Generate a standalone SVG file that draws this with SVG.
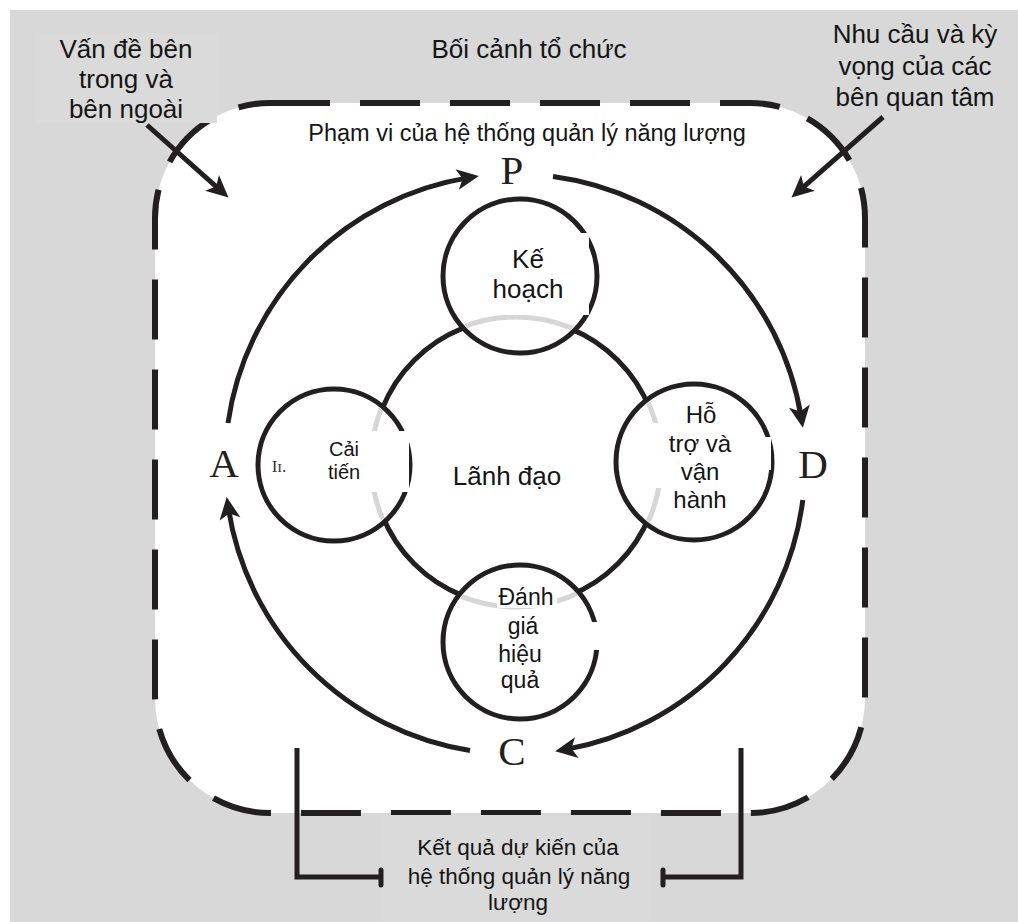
<svg xmlns="http://www.w3.org/2000/svg" width="1018" height="922" viewBox="0 0 1018 922">
  <defs>
    <style>
      .txt { font-family: "Liberation Sans", Arial, sans-serif; fill: #151515; text-anchor: middle; }
      .big { font-size: 26px; }
      .mid { font-size: 24px; }
      .sm { font-size: 20px; }
      .letter { font-family: "Liberation Serif", "Times New Roman", serif; font-size: 41px; fill: #231f20; text-anchor: middle; }
      .ring { fill: #ffffff; stroke: #231f20; stroke-width: 5; }
      .flow { fill: none; stroke: #231f20; stroke-width: 5; marker-end: url(#head); }
      .bracket { fill: none; stroke: #231f20; stroke-width: 5; }
      .cover { fill: #ffffff; }
    </style>
    <marker id="head" markerUnits="userSpaceOnUse" markerWidth="32" markerHeight="32" viewBox="-16 -14 32 28" refX="0" refY="0" orient="auto">
      <path d="M10,0 L-12,-10.5 L-6.5,0 L-12,10.5 Z" fill="#231f20"/>
    </marker>
    <clipPath id="insideSmall">
      <circle cx="520" cy="276" r="74"/>
      <circle cx="694" cy="462" r="75"/>
      <circle cx="334" cy="465" r="73"/>
      <circle cx="520" cy="642" r="74"/>
    </clipPath>
  </defs>

  <!-- page background -->
  <rect x="0" y="0" width="1018" height="922" fill="#ffffff"/>
  <rect x="10" y="10" width="1008" height="912" fill="#d8d8d8"/>

  <!-- scope boundary -->
  <g id="scope">
    <rect x="155" y="103" width="710" height="710" rx="115" ry="115" fill="#ffffff" stroke="#231f20" stroke-width="6" stroke-dasharray="60 30"/>
  </g>

  <!-- label backgrounds -->
  <rect x="35" y="33" width="182" height="90" fill="#dadada"/>
  <rect x="383" y="815" width="267" height="107" fill="#dadada"/>

  <!-- outer context labels -->
  <g id="context">
    <text class="txt big" x="529" y="58">Bối cảnh tổ chức</text>
  </g>
  <g id="issues">
    <text class="txt big" x="126" y="58">Vấn đề bên</text>
    <text class="txt big" x="126" y="88">trong và</text>
    <text class="txt big" x="126" y="118">bên ngoài</text>
  </g>
  <g id="parties">
    <text class="txt big" x="915" y="43">Nhu cầu và kỳ</text>
    <text class="txt big" x="915" y="75">vọng của các</text>
    <text class="txt big" x="915" y="106">bên quan tâm</text>
  </g>
  <g id="scope-label">
    <text class="txt" style="font-size:23.5px" x="527" y="141">Phạm vi của hệ thống quản lý năng lượng</text>
  </g>
  <g id="outcomes">
    <text class="txt" style="font-size:22.5px" x="518" y="855">Kết quả dự kiến của</text>
    <text class="txt" style="font-size:22.5px" x="519" y="884">hệ thống quản lý năng</text>
    <text class="txt" style="font-size:22.5px" x="518" y="910">lượng</text>
  </g>

  <!-- PDCA letters -->
  <g id="plan-letter"><text class="letter" x="512" y="184">P</text></g>
  <g id="do-letter"><text class="letter" x="813" y="478">D</text></g>
  <g id="check-letter"><text class="letter" x="512" y="765">C</text></g>
  <g id="act-letter"><text class="letter" x="224" y="477">A</text></g>

  <!-- leadership core -->
  <g id="leadership">
    <circle cx="516" cy="462" r="144" fill="none" stroke="#231f20" stroke-width="5"/>
    <text class="txt big" x="507" y="485">Lãnh đạo</text>
  </g>

  <!-- phase circles -->
  <g id="planning">
    <circle class="ring" cx="520" cy="276" r="77"/>
  </g>
  <g id="support">
    <circle class="ring" cx="694" cy="462" r="78"/>
  </g>
  <g id="improvement">
    <circle class="ring" cx="334" cy="465" r="76"/>
  </g>
  <g id="evaluation">
    <circle class="ring" cx="520" cy="642" r="77"/>
  </g>

  <!-- faint continuation of the core ring inside the phase circles -->
  <circle cx="516" cy="462" r="145" fill="none" stroke="#d6d6d6" stroke-width="5" clip-path="url(#insideSmall)"/>

  <!-- text backings inside phase circles -->
  <rect class="cover" x="482" y="233" width="107" height="82"/>
  <rect class="cover" x="345" y="431" width="64" height="61"/>
  <rect class="cover" x="640" y="423" width="62" height="65"/>
  <rect class="cover" x="700" y="437" width="71" height="33"/>
  <rect class="cover" x="497" y="586" width="60" height="22"/>
  <rect class="cover" x="560" y="622" width="41" height="28"/>

  <!-- phase labels -->
  <g id="planning-label">
    <text class="txt big" x="528" y="268">Kế</text>
    <text class="txt big" x="528" y="298">hoạch</text>
  </g>
  <g id="support-label">
    <text class="txt mid" x="701" y="423">Hỗ</text>
    <text class="txt mid" x="700" y="452">trợ và</text>
    <text class="txt mid" x="700" y="480">vận</text>
    <text class="txt mid" x="700" y="508">hành</text>
  </g>
  <g id="improvement-label">
    <text class="txt sm" x="344" y="456">Cải</text>
    <text class="txt sm" x="344" y="479">tiến</text>
    <text x="279" y="472" style="font-family:'Liberation Serif','DejaVu Serif',serif;font-size:17px;fill:#333;text-anchor:middle">Iɪ.</text>
  </g>
  <g id="evaluation-label">
    <text class="txt" style="font-size:23px" x="526" y="605">Đánh</text>
    <text class="txt" style="font-size:23px" x="523" y="634">giá</text>
    <text class="txt" style="font-size:23px" x="520" y="662">hiệu</text>
    <text class="txt" style="font-size:23px" x="520" y="688">quả</text>
  </g>

  <!-- connectors -->
  <g id="connectors">
    <path class="flow" d="M228 423 A290 290 0 0 1 469 177.6"/>
    <path class="flow" d="M553 176.5 A290 290 0 0 1 801.3 418"/>
    <path class="flow" d="M802.8 500 A290 290 0 0 1 565 749.6"/>
    <path class="flow" d="M470 750.5 A290 290 0 0 1 228.2 507"/>
    <path class="flow" d="M147 125 L221 190.8"/>
    <path class="flow" d="M883 117 L799 190.8"/>
    <path class="bracket" d="M297 748 V877 H381"/>
    <path class="bracket" d="M741 748 V877 H663"/>
    <path class="bracket" stroke-linecap="round" d="M381 870 V885 M663 870 V885"/>
  </g>
</svg>
